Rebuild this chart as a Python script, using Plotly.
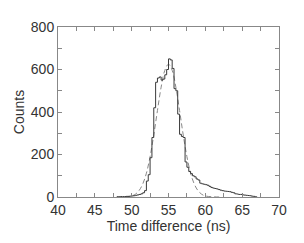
import numpy as np
import plotly.graph_objects as go

# Histogram data (0.25 ns bins starting at 48.0 ns)
bin_start = 48.0
bin_width = 0.25
counts = [1, 1, 2, 2, 2, 3, 3, 4,
          5, 6, 8, 10, 12, 15, 20, 30,
          75, 105, 185, 280, 420, 540, 560, 565,
          550, 555, 575, 600, 650, 645, 605, 510,
          500, 390, 295, 285, 280, 165, 140, 120,
          110, 100, 95, 85, 80, 65, 62, 60,
          58, 55, 50, 45, 42, 40, 38, 35,
          32, 30, 28, 27, 26, 25, 22, 20,
          15, 14, 12, 12, 10, 9, 8, 7,
          6, 4, 3, 1]

# Dashed fit curve
fit_x = [48, 49, 50, 50.5, 51, 51.5, 52, 52.5, 53, 53.5, 54, 54.5, 55,
         55.5, 56, 56.5, 57, 57.5, 58, 58.5, 59, 59.5, 60, 61, 62]
fit_y = [0, 1, 5, 13, 30, 61, 112, 190, 292, 407, 517, 596, 625,
         596, 517, 407, 292, 190, 112, 61, 30, 13, 5, 1, 0]

x_ticks = [40, 45, 50, 55, 60, 65, 70]
y_ticks = [0, 200, 400, 600, 800]

edges = [bin_start + i * bin_width for i in range(len(counts) + 1)]
hx = [edges[0]] + edges
hy = [0] + counts + [0]

FONT = "Liberation Sans, Arial, sans-serif"
TXT = "#333333"

fig = go.Figure()
fig.add_trace(go.Scatter(x=fit_x, y=fit_y, mode="lines", line_shape="spline",
                         line=dict(color="#888888", width=1, dash="5px,3px"),
                         showlegend=False, hoverinfo="skip"))
fig.add_trace(go.Scatter(x=hx, y=hy, mode="lines", line_shape="hv",
                         line=dict(color="#3a3a3a", width=1),
                         showlegend=False, hoverinfo="skip"))

axis_common = dict(showline=True, linecolor="#888888", linewidth=1, mirror="allticks",
                   ticks="inside", ticklen=4, tickcolor="#888888", tickwidth=1,
                   showgrid=False, zeroline=False,
                   tickfont=dict(family=FONT, size=14, color=TXT))

fig.update_xaxes(range=[40, 70], tickvals=x_ticks, ticktext=[str(v) for v in x_ticks],
                 minor=dict(dtick=2.5, tick0=40, ticks="inside", ticklen=4, tickcolor="#888888"),
                 title=dict(text="Time difference (ns)", standoff=3,
                            font=dict(family=FONT, size=14, color=TXT)),
                 **axis_common)
fig.update_yaxes(range=[0, 800], tickvals=y_ticks, ticktext=[str(v) for v in y_ticks],
                 minor=dict(dtick=100, tick0=0, ticks="inside", ticklen=4, tickcolor="#888888"),
                 title=dict(text="Counts", standoff=2,
                            font=dict(family=FONT, size=14, color=TXT)),
                 **axis_common)

fig.update_layout(width=296, height=235, margin=dict(l=50, r=25, t=11, b=46),
                  paper_bgcolor="white", plot_bgcolor="white")

fig.write_html("out.html")
